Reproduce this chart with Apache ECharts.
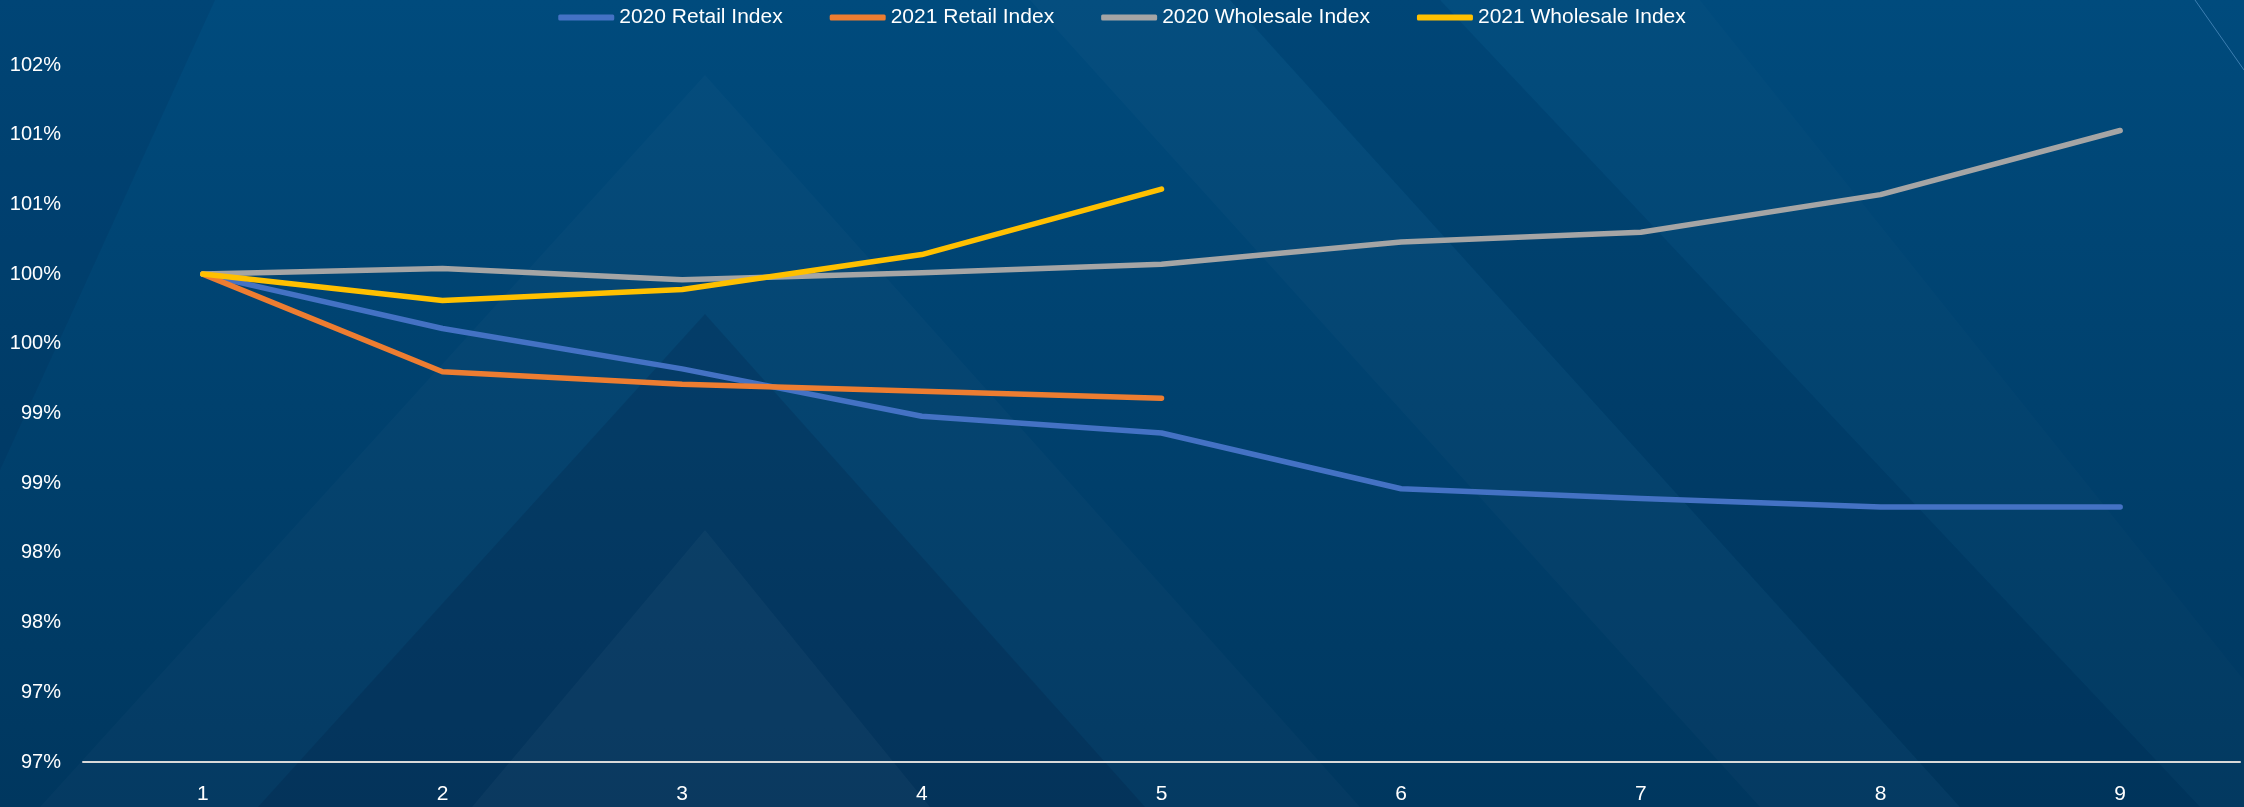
<!DOCTYPE html>
<html>
<head>
<meta charset="utf-8">
<script src="https://cdn.jsdelivr.net/npm/echarts@6/dist/echarts.min.js"></script>
<style>
html,body{margin:0;padding:0;background:#004676;}
#chart{width:2244px;height:807px;}
</style>
</head>
<body>
<div id="chart"></div>
<script>
const categories = ['1','2','3','4','5','6','7','8','9'];
const retail2020 = [100.0, 99.61, 99.32, 98.98, 98.86, 98.46, 98.39, 98.33, 98.33];
const retail2021 = [100.0, 99.30, 99.21, 99.16, 99.11];
const wholesale2020 = [100.0, 100.04, 99.96, 100.01, 100.07, 100.23, 100.30, 100.57, 101.03];
const wholesale2021 = [100.0, 99.81, 99.89, 100.14, 100.61];
const seriesNames = ['2020 Retail Index','2021 Retail Index','2020 Wholesale Index','2021 Wholesale Index'];
const seriesColors = ['#4472C4','#ED7D31','#A5A5A5','#FFC000'];
const seriesData = [retail2020, retail2021, wholesale2020, wholesale2021];

const chart = echarts.init(document.getElementById('chart'));

function poly(points, fill){
  return {type:'polygon', silent:true, z:-10, shape:{points:points}, style:{fill:fill}};
}

const option = {
  backgroundColor: {
    type:'linear', x:0, y:0, x2:0, y2:1,
    colorStops:[{offset:0,color:'#004b7d'},{offset:1,color:'#00375f'}]
  },
  graphic: [
    poly([[0,0],[215,0],[0,470]], 'rgba(0,20,60,0.10)'),
    poly([[705,75],[40,807],[1360,807]], 'rgba(255,255,255,0.018)'),
    poly([[705,314],[258,807],[1145,807]], 'rgba(0,15,45,0.15)'),
    poly([[705,530],[472,807],[930,807]], 'rgba(255,255,255,0.03)'),
    poly([[1030,0],[1230,0],[1960,807],[1760,807]], 'rgba(255,255,255,0.02)'),
    poly([[1230,0],[1440,0],[2200,807],[1960,807]], 'rgba(0,15,45,0.07)'),
    poly([[1440,0],[1700,0],[2244,680],[2244,807],[2200,807]], 'rgba(255,255,255,0.01)'),
    {type:'line', silent:true, z:-9, shape:{x1:2195,y1:0,x2:2244,y2:70}, style:{stroke:'rgba(120,180,230,0.5)',lineWidth:1}}
  ],
  legend: {
    top: 2,
    left: 'center',
    itemWidth: 56,
    itemHeight: 6,
    itemGap: 47,
    icon: 'roundRect',
    textStyle: {color:'#ffffff', fontSize:21, fontFamily:'Liberation Sans'},
    data: seriesNames
  },
  grid: {left:83, right:4, top:65, bottom:45, containLabel:false},
  xAxis: {
    type:'category',
    data: categories,
    boundaryGap: true,
    axisLine: {show:true, lineStyle:{color:'#d9d9d9', width:2}},
    axisTick: {show:false},
    axisLabel: {color:'#ffffff', fontSize:21, fontFamily:'Liberation Sans', margin:22},
    splitLine: {show:false}
  },
  yAxis: {
    type:'value',
    min: 96.5,
    max: 101.5,
    interval: 0.5,
    axisLine: {show:false},
    axisTick: {show:false},
    splitLine: {show:false},
    axisLabel: {
      color:'#ffffff', fontSize:20, fontFamily:'Liberation Sans', margin:22,
      formatter: function(v){ return Math.round(v) + '%'; }
    }
  },
  series: seriesData.map(function(d,i){
    return {
      name: seriesNames[i],
      type: 'line',
      data: d,
      symbol: 'none',
      smooth: false,
      color: seriesColors[i],
      lineStyle: {width:5.5, color: seriesColors[i], cap:'round', join:'round'},
      animation: false
    };
  }),
  animation: false
};
chart.setOption(option);
</script>
</body>
</html>
